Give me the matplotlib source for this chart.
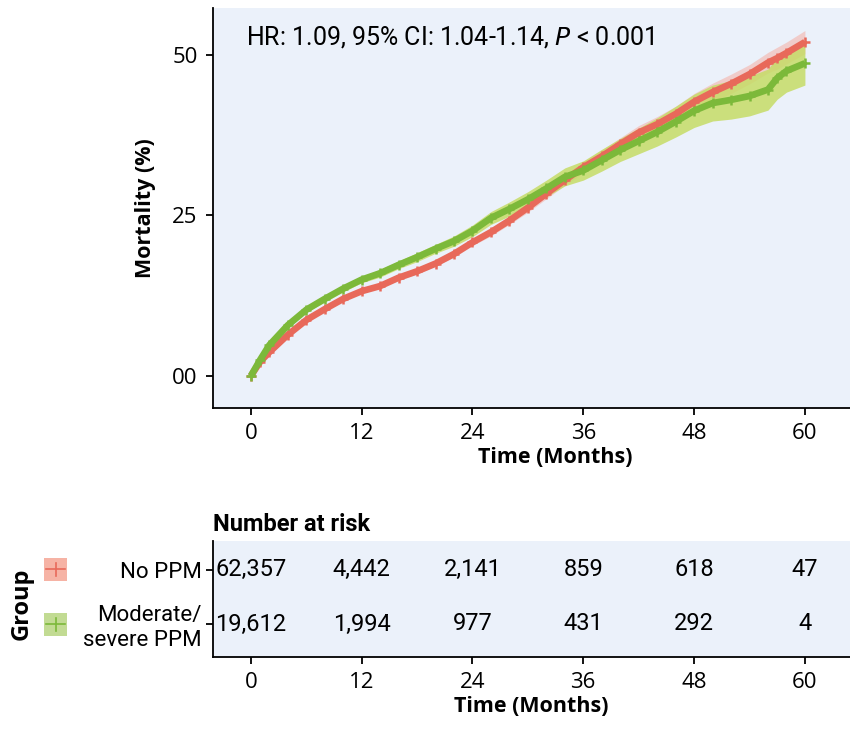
import matplotlib
matplotlib.use("Agg")
import matplotlib.pyplot as plt
from matplotlib.patches import Rectangle
from matplotlib.lines import Line2D
import numpy as np

months = [0, 1, 2, 4, 6, 8, 10, 12, 14, 16, 18, 20, 22, 24, 26, 28, 30, 32, 34,
          36, 38, 40, 42, 44, 46, 48, 50, 52, 54, 56, 57, 58, 60]
no_ppm = [0, 2.2, 3.7, 6.4, 8.7, 10.4, 12.0, 13.2, 14.0, 15.3, 16.3, 17.5, 19.0,
          20.8, 22.4, 24.2, 26.2, 28.4, 30.5, 32.5, 34.2, 36.1, 37.9, 39.2, 40.8,
          42.7, 44.2, 45.5, 47.0, 48.8, 49.5, 50.3, 52.0]
no_ppm_ci = [0, 0.2, 0.2, 0.2, 0.2, 0.3, 0.3, 0.3, 0.3, 0.4, 0.4, 0.4, 0.5, 0.5,
             0.6, 0.6, 0.7, 0.8, 0.8, 0.9, 1.0, 1.0, 1.1, 1.2, 1.2, 1.3, 1.4, 1.5,
             1.5, 1.6, 1.7, 1.7, 1.8]
mod_ppm = [0, 2.5, 4.8, 7.9, 10.3, 12.0, 13.6, 15.0, 16.0, 17.3, 18.5, 19.8, 21.0,
           22.6, 24.6, 26.0, 27.5, 29.2, 31.0, 32.0, 33.6, 35.2, 36.6, 38.0, 39.6,
           41.3, 42.5, 43.0, 43.6, 44.6, 46.4, 47.5, 48.7]
mod_ppm_ci = [0, 0.3, 0.4, 0.4, 0.4, 0.5, 0.5, 0.5, 0.6, 0.6, 0.7, 0.7, 0.8, 0.9,
              1.0, 1.1, 1.2, 1.3, 1.4, 1.5, 1.7, 1.8, 2.0, 2.2, 2.4, 2.6, 2.8, 3.0,
              3.1, 3.2, 3.3, 3.3, 3.4]

risk_times = [0, 12, 24, 36, 48, 60]
risk_no_ppm = ["62,357", "4,442", "2,141", "859", "618", "47"]
risk_mod_ppm = ["19,612", "1,994", "977", "431", "292", "4"]
groups = ["No PPM", "Moderate/\nsevere PPM"]

y_ticks = [0, 25, 50]
y_ticklabels = ["00", "25", "50"]

red = "#E8695A"
green = "#7CB93A"
red_ci = "#F1C6C2"
green_ci = "#C6DC66"
bg = "#EBF1FA"

main_font = ["Open Sans", "DejaVu Sans"]
narrow = ["Roboto", "DejaVu Sans"]

fig = plt.figure(figsize=(8.5, 7.32), dpi=100)

# --- curves (panel runs past the right edge, as in the reference crop)
ax = fig.add_axes([0.2506, 0.4426, 0.805, 0.5464])
ax.set_facecolor(bg)
t = np.array(months)
for y, ci, cc in [(no_ppm, no_ppm_ci, red_ci), (mod_ppm, mod_ppm_ci, green_ci)]:
    y = np.array(y)
    ci = np.array(ci)
    ax.fill_between(t, y - ci, y + ci, color=cc, alpha=0.85, lw=0)
for y, c in [(no_ppm, red), (mod_ppm, green)]:
    ax.plot(t, y, color=c, lw=4.8, solid_capstyle="butt")
    ax.plot(t, y, ls="none", marker="+", ms=7, mew=1.8, color=c)

ax.set_xlim(-4.1, 70)
ax.set_ylim(-5, 57.3)
ax.set_xticks(risk_times)
ax.set_yticks(y_ticks)
ax.set_yticklabels(y_ticklabels)
for s in ["top", "right"]:
    ax.spines[s].set_visible(False)
for s in ["left", "bottom"]:
    ax.spines[s].set_linewidth(1.3)
ax.tick_params(length=5, width=1.3, labelsize=16, pad=6)
for lab in ax.get_xticklabels() + ax.get_yticklabels():
    lab.set_family(main_font)
ax.set_xlabel("Time (Months)", fontsize=15.5, fontweight="bold", family=main_font, labelpad=2)
ax.set_ylabel("Mortality (%)", fontsize=15.5, fontweight="bold", family=main_font, labelpad=12)
ax.text(33 / 688, 0.9275, "HR: 1.09, 95% CI: 1.04-1.14, $\\it{P}$ < 0.001", transform=ax.transAxes,
        fontsize=18, family=narrow, va="center")

# --- number at risk
tb = fig.add_axes([0.2506, 0.1025, 0.7494, 0.1585])
tb.set_facecolor(bg)
tb.set_xlim(-4.1, 64.9)
tb.set_ylim(0.39, 2.535)
for x, a, b in zip(risk_times, risk_no_ppm, risk_mod_ppm):
    tb.text(x, 2, a, ha="center", va="center", fontsize=17, family=narrow)
    tb.text(x, 1, b, ha="center", va="center", fontsize=17, family=narrow)
tb.set_xticks(risk_times)
tb.set_yticks([2, 1])
tb.set_yticklabels(groups, fontsize=17, family=narrow, ha="right", linespacing=1.2)
for s in ["top", "right"]:
    tb.spines[s].set_visible(False)
for s in ["left", "bottom"]:
    tb.spines[s].set_linewidth(1.3)
tb.tick_params(length=5, width=1.3, labelsize=16, pad=6)
tb.tick_params(axis="y", pad=3)
for lab in tb.get_xticklabels():
    lab.set_family(main_font)
tb.set_xlabel("Time (Months)", fontsize=15.5, fontweight="bold", family=main_font, labelpad=2)
tb.text(0.0, 1.14, "Number at risk", transform=tb.transAxes, fontsize=17,
        fontweight="bold", family=narrow, va="center")

# group legend keys
for yy, c, fc in [(0.222, red, "#F6B3A5"), (0.147, green, "#C2DB93")]:
    fig.patches.append(Rectangle((0.052, yy - 0.0157), 0.027, 0.0314, transform=fig.transFigure,
                                 facecolor=fc, edgecolor="none"))
    fig.lines.append(Line2D([0.054, 0.077], [yy, yy], transform=fig.transFigure, color=c, lw=1.2))
    fig.lines.append(Line2D([0.0655, 0.0655], [yy - 0.009, yy + 0.009], transform=fig.transFigure,
                            color=c, lw=1.2))
fig.text(0.026, 0.175, "Group", rotation=90, fontsize=17, fontweight="bold",
         family=main_font, ha="center", va="center")

fig.savefig("out.png", dpi=100)
